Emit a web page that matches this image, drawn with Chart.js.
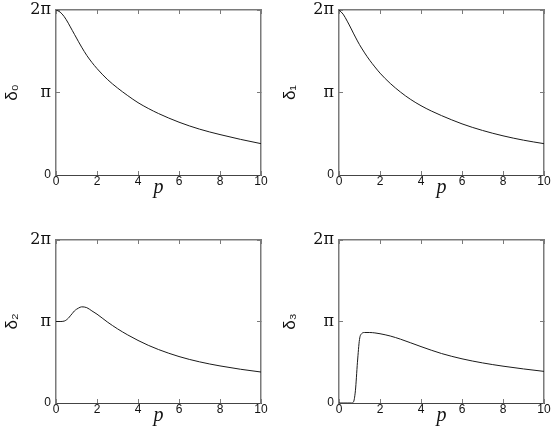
<!DOCTYPE html>
<html>
<head>
<meta charset="utf-8">
<script src="https://cdn.jsdelivr.net/npm/chart.js@4/dist/chart.umd.min.js"></script>
<style>
  html, body { margin: 0; padding: 0; background: #fff; }
  #wrap { position: relative; width: 552px; height: 432px; }
  canvas { position: absolute; left: 0; top: 0; }
</style>
</head>
<body>
<div id="wrap">
  <canvas id="c0" width="552" height="432"></canvas>
  <canvas id="c1" width="552" height="432"></canvas>
  <canvas id="c2" width="552" height="432"></canvas>
  <canvas id="c3" width="552" height="432"></canvas>
</div>
<script>
// p values (shared by all four panels)
const p = [0, 0.2, 0.4, 0.6, 0.7, 0.8, 0.9, 1.0, 1.1, 1.25, 1.5, 1.75, 2, 2.5, 3, 3.5, 4, 4.5, 5, 6, 7, 8, 9, 10];
// phase shifts, in units of pi
const delta0 = [2.0, 1.975, 1.92, 1.84, 1.795, 1.75, 1.705, 1.66, 1.615, 1.55, 1.45, 1.365, 1.29, 1.16, 1.055, 0.962, 0.877, 0.807, 0.745, 0.64, 0.556, 0.49, 0.432, 0.38];
const delta1 = [2.0, 1.95, 1.865, 1.77, 1.72, 1.672, 1.625, 1.58, 1.539, 1.48, 1.39, 1.31, 1.235, 1.11, 1.005, 0.915, 0.84, 0.776, 0.72, 0.62, 0.54, 0.475, 0.422, 0.38];
const delta2 = [1.0, 1.0, 1.005, 1.04, 1.07, 1.10, 1.13, 1.15, 1.165, 1.18, 1.17, 1.13, 1.09, 0.995, 0.91, 0.835, 0.768, 0.708, 0.656, 0.57, 0.505, 0.455, 0.414, 0.38];
const delta3 = [0, 0, 0, 0, 0.01, 0.15, 0.5, 0.78, 0.85, 0.865, 0.865, 0.86, 0.85, 0.822, 0.783, 0.738, 0.692, 0.648, 0.607, 0.542, 0.492, 0.452, 0.418, 0.388];
// tick labels
const yTickLabels = ['0', 'π', '2π'];
const xLabel = 'p';
const yLabels = ['δ₀', 'δ₁', 'δ₂', 'δ₃'];

const W = 552, H = 432;
const panels = [
  { id: 'c0', L: 56,  R: 261, T: 10,  B: 175, yW: 54, vals: delta0, label: yLabels[0] },
  { id: 'c1', L: 339, R: 544, T: 10,  B: 175, yW: 59, vals: delta1, label: yLabels[1] },
  { id: 'c2', L: 56,  R: 261, T: 240, B: 403, yW: 54, vals: delta2, label: yLabels[2] },
  { id: 'c3', L: 339, R: 544, T: 240, B: 403, yW: 59, vals: delta3, label: yLabels[3] }
];
const xH = 30;
const axisColor = '#7a7a7a';
const SANS = "'Liberation Sans', Arial, Helvetica, sans-serif";
const SERIF = "'Liberation Serif', 'Times New Roman', serif";
const MATH = "'DejaVu Serif', 'Liberation Serif', serif";

function fix(size, horiz) {
  return s => {
    if (horiz) s.height = size; else s.width = size;
    s.paddingLeft = 0; s.paddingRight = 0; s.paddingTop = 0; s.paddingBottom = 0;
  };
}

panels.forEach(pn => {
  new Chart(document.getElementById(pn.id), {
    type: 'line',
    data: {
      datasets: [{
        data: p.map((x, i) => ({ x: x, y: pn.vals[i] })),
        borderColor: '#1a1a1a',
        borderWidth: 1,
        pointRadius: 0,
        fill: false,
        cubicInterpolationMode: 'monotone',
        xAxisID: 'x',
        yAxisID: 'y'
      }]
    },
    options: {
      responsive: false,
      devicePixelRatio: 1,
      animation: false,
      events: [],
      layout: {
        autoPadding: false,
        padding: { left: pn.L - pn.yW, right: W - pn.R, top: pn.T, bottom: H - pn.B - xH }
      },
      plugins: { legend: { display: false }, tooltip: { enabled: false } },
      scales: {
        x: {
          type: 'linear', position: 'bottom', min: 0, max: 10,
          afterFit: fix(xH, true),
          border: { display: true, color: '#444', width: 1 },
          grid: { display: true, drawOnChartArea: false, drawTicks: true, tickLength: -4, tickColor: axisColor, color: axisColor },
          ticks: { stepSize: 2, autoSkip: false, maxRotation: 0, padding: 3, color: '#111', font: { family: SANS, size: 12 } },
          title: { display: true, text: xLabel, color: '#111', font: { family: SERIF, style: 'italic', size: 20, lineHeight: 1.2 }, padding: { top: 0, bottom: 5 } }
        },
        x2: {
          type: 'linear', position: 'top', min: 0, max: 10, display: true,
          afterFit: fix(0, true),
          border: { display: true, color: axisColor, width: 1.5 },
          grid: { display: true, drawOnChartArea: false, drawTicks: true, tickLength: -4, tickColor: axisColor, color: axisColor },
          ticks: { display: false, stepSize: 2 }
        },
        y: {
          type: 'linear', position: 'left', min: 0, max: 2,
          afterFit: fix(pn.yW, false),
          border: { display: true, color: axisColor, width: 1.5 },
          grid: { display: true, drawOnChartArea: false, drawTicks: true, tickLength: -4, tickColor: axisColor, color: axisColor },
          ticks: {
            stepSize: 1, autoSkip: false, padding: 9, color: '#111',
            callback: v => yTickLabels[Math.round(v)],
            font: ctx => (ctx.tick && ctx.tick.value === 0) ? { family: SANS, size: 12 } : { family: MATH, size: 16 }
          },
          title: { display: true, text: pn.label, color: '#111', font: { family: SANS, size: 17, lineHeight: 1.2 }, padding: { top: 0, bottom: 0 } }
        },
        y2: {
          type: 'linear', position: 'right', min: 0, max: 2, display: true,
          afterFit: fix(0, false),
          border: { display: true, color: axisColor, width: 1.5 },
          grid: { display: true, drawOnChartArea: false, drawTicks: true, tickLength: -4, tickColor: axisColor, color: axisColor },
          ticks: { display: false, stepSize: 1 }
        }
      }
    }
  });
});
</script>
</body>
</html>
